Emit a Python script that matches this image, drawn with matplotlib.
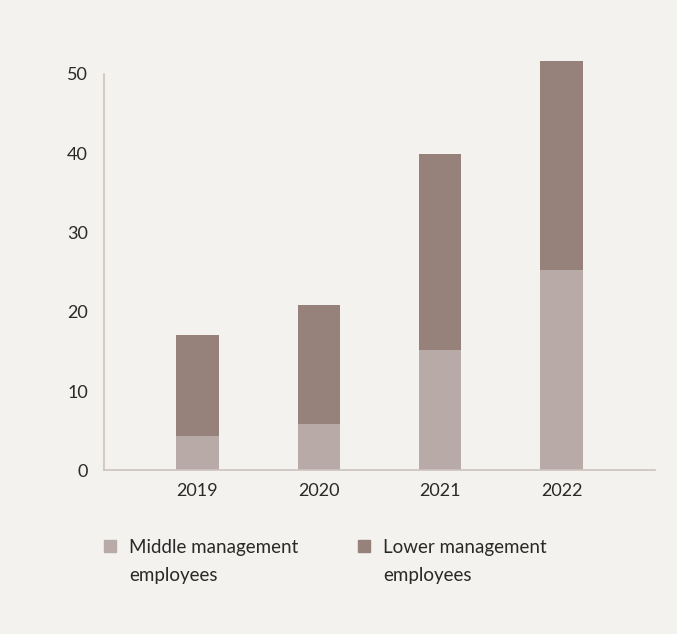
import numpy as np
import matplotlib.pyplot as plt
from matplotlib.patches import Rectangle

plt.rcParams['font.family'] = ['Lato', 'DejaVu Sans']

# data
years = ["2019", "2020", "2021", "2022"]
middle = np.array([4.3, 5.8, 15.2, 25.3])
lower = np.array([12.8, 15.0, 24.7, 26.4])
series_labels = [("Middle management", "employees"), ("Lower management", "employees")]

bg = "#f3f2ef"
col_mid = "#b8aaa6"
col_low = "#96817b"
txt = "#2b2828"
spine_col = "#cdc3bd"

W, H = 677, 634
fig = plt.figure(figsize=(W / 100, H / 100), dpi=100, facecolor=bg)
ax = fig.add_axes([104 / W, 1 - 470.3 / H, (655 - 104) / W, (470.3 - 74) / H])
ax.set_facecolor(bg)

x = np.arange(len(years))
ax.bar(x, middle, width=0.35, color=col_mid, clip_on=False)
ax.bar(x, lower, width=0.35, bottom=middle, color=col_low, clip_on=False)

ax.set_xlim(-0.77, 3.77)
ax.set_ylim(0, 50)
ax.set_yticks(range(0, 51, 10))
ax.set_xticks(x)
ax.set_xticklabels(years)
ax.tick_params(length=0, labelsize=13, labelcolor=txt)
ax.tick_params(axis='y', pad=11.5)
ax.tick_params(axis='x', pad=9.5)

for s in ["top", "right"]:
    ax.spines[s].set_visible(False)
for s in ["left", "bottom"]:
    ax.spines[s].set_color(spine_col)
    ax.spines[s].set_linewidth(1.2)

# legend, laid out by hand
cols = [col_mid, col_low]
for i, (c, (l1, l2)) in enumerate(zip(cols, series_labels)):
    x0 = 104 + i * 254
    fig.patches.append(Rectangle((x0 / W, 1 - 552 / H), 12 / W, 12 / H,
                                 transform=fig.transFigure, color=c))
    fig.text((x0 + 25) / W, 1 - 552.7 / H, l1, fontsize=13.5, color=txt, va='baseline')
    fig.text((x0 + 25) / W, 1 - 581 / H, l2, fontsize=13.5, color=txt, va='baseline')

fig.savefig("out.png", dpi=100, facecolor=bg)
